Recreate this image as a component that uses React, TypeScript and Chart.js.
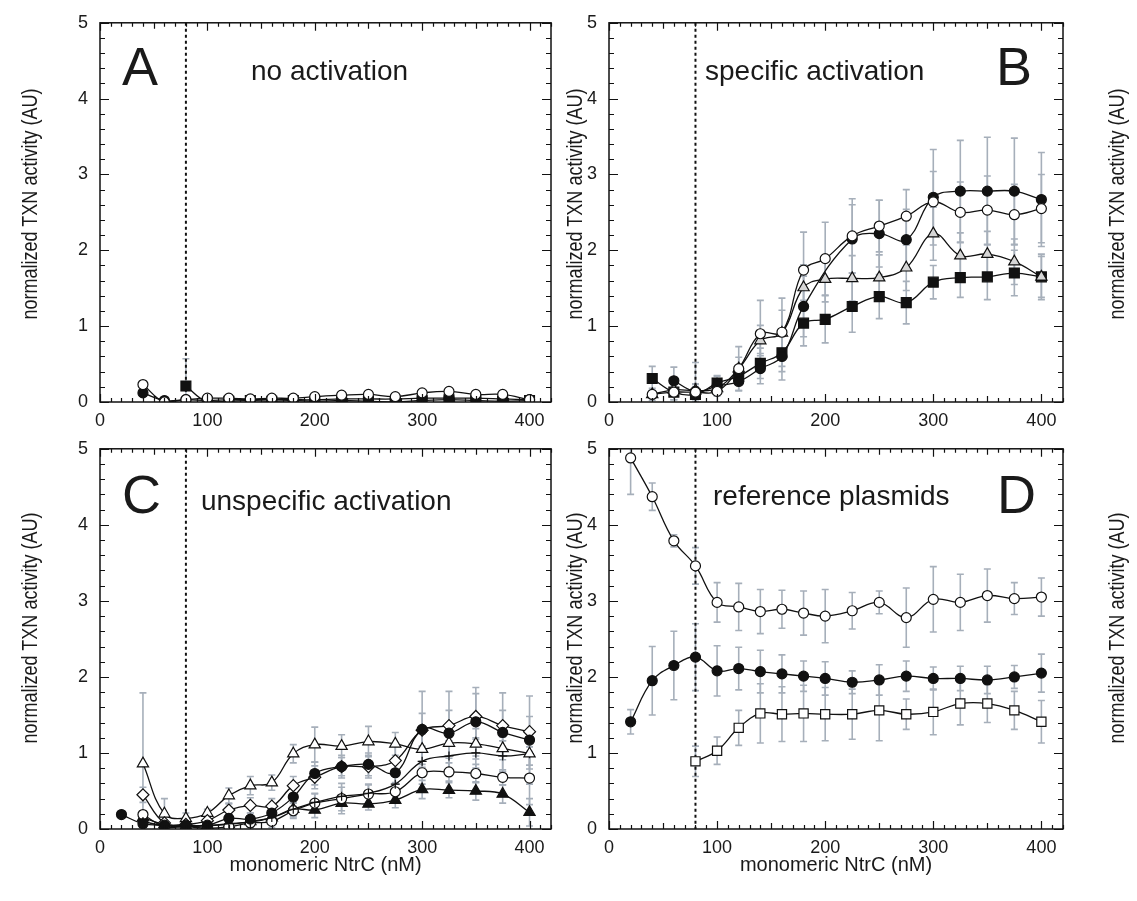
import React, { useEffect, useRef } from 'react';
import { Chart, registerables } from 'chart.js';

Chart.register(...registerables);

// ---------------- data ----------------
const X_TICKS = [0, 100, 200, 300, 400];
const Y_TICKS = [0, 1, 2, 3, 4, 5];
const THRESHOLD_X = 80;

const A_X = [40, 60, 80, 100, 120, 140, 160, 180, 200, 225, 250, 275, 300, 325, 350, 375, 400];
const A_OPEN_CIRCLE = [0.23, 0.0, 0.03, 0.05, 0.05, 0.04, 0.05, 0.05, 0.07, 0.09, 0.1, 0.07, 0.12, 0.14, 0.1, 0.1, 0.03];
const A_OPEN_CIRCLE_ERR = [0.03, 0.02, 0.02, 0.02, 0.02, 0.02, 0.02, 0.02, 0.03, 0.03, 0.03, 0.03, 0.03, 0.03, 0.03, 0.03, 0.02];
const A_FILLED_CIRCLE = [0.12, 0.02, 0.03, 0.02, 0.03, 0.03, 0.03, 0.03, 0.03, 0.04, 0.04, 0.04, 0.05, 0.05, 0.05, 0.04, 0.03];
const A_FILLED_CIRCLE_ERR = [0.04, 0.02, 0.02, 0.02, 0.02, 0.02, 0.02, 0.02, 0.02, 0.02, 0.02, 0.02, 0.02, 0.02, 0.02, 0.02, 0.02];
const A_FILLED_SQUARE = [null, null, 0.21, 0.0, 0.01, 0.02, 0.01, 0.02, 0.01, 0.02, 0.01, 0.0, 0.02, 0.03, 0.02, 0.01, 0.02];
const A_FILLED_SQUARE_ERR = [null, null, 0.36, 0.02, 0.02, 0.02, 0.02, 0.02, 0.02, 0.02, 0.02, 0.02, 0.02, 0.02, 0.02, 0.02, 0.02];

const B_X = [40, 60, 80, 100, 120, 140, 160, 180, 200, 225, 250, 275, 300, 325, 350, 375, 400];
const B_OPEN_CIRCLE = [0.1, 0.13, 0.13, 0.14, 0.44, 0.9, 0.92, 1.74, 1.89, 2.19, 2.32, 2.45, 2.64, 2.5, 2.53, 2.47, 2.55];
const B_OPEN_CIRCLE_ERR = [0.08, 0.1, 0.1, 0.2, 0.29, 0.44, 0.45, 0.5, 0.48, 0.49, 0.34, 0.35, 0.4, 0.4, 0.45, 0.4, 0.45];
const B_FILLED_CIRCLE = [null, 0.28, 0.14, 0.21, 0.27, 0.44, 0.6, 1.26, null, 2.15, 2.22, 2.14, 2.7, 2.78, 2.78, 2.78, 2.67];
const B_FILLED_CIRCLE_ERR = [null, 0.18, 0.1, 0.1, 0.12, 0.2, 0.31, 0.4, null, 0.45, 0.44, 0.4, 0.63, 0.67, 0.71, 0.7, 0.62];
const B_GRAY_TRIANGLE = [0.1, 0.16, 0.15, 0.18, 0.44, 0.81, 0.91, 1.51, 1.62, 1.63, 1.64, 1.77, 2.22, 1.93, 1.95, 1.85, 1.65];
const B_GRAY_TRIANGLE_ERR = [0.05, 0.08, 0.37, 0.1, 0.15, 0.2, 0.3, 0.3, 0.3, 0.3, 0.3, 0.3, 0.35, 0.3, 0.3, 0.3, 0.3];
const B_FILLED_SQUARE = [0.31, 0.13, 0.1, 0.25, 0.34, 0.51, 0.65, 1.04, 1.09, 1.26, 1.39, 1.31, 1.58, 1.64, 1.65, 1.7, 1.65];
const B_FILLED_SQUARE_ERR = [0.16, 0.1, 0.1, 0.1, 0.12, 0.2, 0.25, 0.3, 0.31, 0.34, 0.29, 0.28, 0.22, 0.26, 0.3, 0.3, 0.27];

const C_X = [20, 40, 60, 80, 100, 120, 140, 160, 180, 200, 225, 250, 275, 300, 325, 350, 375, 400];
const C_FILLED_CIRCLE = [0.19, 0.07, 0.05, 0.05, 0.05, 0.14, 0.13, 0.21, 0.42, 0.73, 0.82, 0.85, 0.74, 1.31, 1.26, 1.41, 1.27, 1.17];
const C_FILLED_CIRCLE_ERR = [0.03, 0.05, 0.04, 0.04, 0.04, 0.06, 0.08, 0.1, 0.12, 0.15, 0.12, 0.15, 0.15, 0.5, 0.55, 0.45, 0.52, 0.58];
const C_OPEN_DIAMOND = [null, 0.45, 0.08, 0.06, 0.11, 0.25, 0.31, 0.3, 0.57, 0.68, 0.82, 0.82, 0.9, 1.3, 1.36, 1.48, 1.36, 1.28];
const C_OPEN_DIAMOND_ERR = [null, 0.1, 0.04, 0.04, 0.05, 0.08, 0.1, 0.1, 0.12, 0.15, 0.15, 0.15, 0.2, 0.22, 0.2, 0.3, 0.2, 0.2];
const C_OPEN_TRIANGLE = [null, 0.86, 0.2, 0.14, 0.21, 0.44, 0.57, 0.61, 0.99, 1.11, 1.09, 1.15, 1.12, 1.05, 1.13, 1.12, 1.06, 0.99];
const C_OPEN_TRIANGLE_ERR = [null, 0.93, 0.2, 0.07, 0.05, 0.1, 0.12, 0.1, 0.12, 0.23, 0.15, 0.2, 0.15, 0.2, 0.2, 0.2, 0.15, 0.15];
const C_CROSS = [null, 0.1, 0.04, 0.03, 0.04, 0.07, 0.09, 0.15, 0.26, 0.35, 0.43, 0.47, 0.59, 0.89, 0.96, 1.0, 0.96, 0.99];
const C_CROSS_ERR = [null, 0.04, 0.03, 0.03, 0.03, 0.05, 0.06, 0.08, 0.1, 0.12, 0.12, 0.12, 0.15, 0.2, 0.2, 0.2, 0.2, 0.2];
const C_OPEN_CIRCLE = [null, 0.19, 0.03, 0.03, 0.01, 0.03, 0.08, 0.1, 0.24, 0.34, 0.4, 0.46, 0.49, 0.74, 0.75, 0.73, 0.68, 0.67];
const C_OPEN_CIRCLE_ERR = [null, 0.05, 0.03, 0.03, 0.03, 0.04, 0.06, 0.08, 0.1, 0.12, 0.2, 0.12, 0.12, 0.15, 0.12, 0.12, 0.1, 0.35];
const C_FILLED_TRIANGLE = [null, 0.15, 0.06, 0.04, 0.05, 0.06, 0.1, 0.15, 0.26, 0.25, 0.34, 0.33, 0.38, 0.52, 0.51, 0.5, 0.46, 0.22];
const C_FILLED_TRIANGLE_ERR = [null, 0.05, 0.03, 0.03, 0.03, 0.04, 0.05, 0.06, 0.08, 0.1, 0.1, 0.08, 0.1, 0.12, 0.1, 0.12, 0.12, 0.18];

const D_X = [20, 40, 60, 80, 100, 120, 140, 160, 180, 200, 225, 250, 275, 300, 325, 350, 375, 400];
const D_OPEN_CIRCLE = [4.88, 4.37, 3.79, 3.46, 2.98, 2.92, 2.86, 2.89, 2.84, 2.8, 2.87, 2.98, 2.78, 3.02, 2.98, 3.07, 3.03, 3.05];
const D_OPEN_CIRCLE_ERR = [0.48, 0.18, 0.08, 0.24, 0.26, 0.31, 0.29, 0.25, 0.29, 0.35, 0.24, 0.15, 0.39, 0.43, 0.37, 0.35, 0.21, 0.25];
const D_FILLED_CIRCLE = [1.41, 1.95, 2.15, 2.26, 2.08, 2.11, 2.07, 2.04, 2.01, 1.98, 1.93, 1.96, 2.01, 1.98, 1.98, 1.96, 2.0, 2.05];
const D_FILLED_CIRCLE_ERR = [0.16, 0.45, 0.45, 0.44, 0.33, 0.28, 0.28, 0.25, 0.2, 0.22, 0.15, 0.2, 0.2, 0.15, 0.16, 0.18, 0.15, 0.25];
const D_OPEN_SQUARE = [null, null, null, 0.89, 1.03, 1.33, 1.52, 1.51, 1.52, 1.51, 1.51, 1.56, 1.51, 1.54, 1.65, 1.65, 1.56, 1.41];
const D_OPEN_SQUARE_ERR = [null, null, null, 0.2, 0.18, 0.23, 0.39, 0.36, 0.37, 0.35, 0.33, 0.4, 0.2, 0.3, 0.28, 0.25, 0.25, 0.28];

const Y_TITLE = 'normalized TXN activity (AU)';
const X_TITLE = 'monomeric NtrC (nM)';

// ---------------- styles ----------------
const FONT = '"Liberation Sans", Arial, Helvetica, sans-serif';
const INK = '#1a1a1a';
const ERR_COLOR = '#a6afba';

type MarkerStyle = { pointStyle: any; radius: number; fill: string };
const MARKERS: Record<string, MarkerStyle> = {
  filledCircle: { pointStyle: 'circle', radius: 5, fill: '#111' },
  openCircle: { pointStyle: 'circle', radius: 5, fill: '#fff' },
  filledSquare: { pointStyle: 'rect', radius: 7, fill: '#111' },
  openSquare: { pointStyle: 'rect', radius: 6.5, fill: '#fff' },
  grayTriangle: { pointStyle: 'triangle', radius: 6.5, fill: '#d6d6d6' },
  openTriangle: { pointStyle: 'triangle', radius: 6.5, fill: '#fff' },
  filledTriangle: { pointStyle: 'triangle', radius: 6.5, fill: '#111' },
  openDiamond: { pointStyle: 'rectRot', radius: 6, fill: '#fff' },
  cross: { pointStyle: 'cross', radius: 4.5, fill: 'rgba(0,0,0,0)' },
};

type Series = { label: string; marker: string; values: (number | null)[]; errors: (number | null)[] };
type PanelCfg = {
  id: string;
  left: number; top: number; w: number; h: number;
  padTop: number; padRight: number; yAxisW: number; xAxisH: number;
  xTitle: boolean;
  xs: number[];
  series: Series[];
  letter: string; letterAt: [number, number];
  caption: string; captionAt: [number, number];
};

const PANELS: PanelCfg[] = [
  {
    id: 'A', left: 0, top: 0, w: 560, h: 440, padTop: 19, padRight: 9, yAxisW: 100, xAxisH: 38,
    xTitle: false, xs: A_X,
    series: [
      { label: 'open circle', marker: 'openCircle', values: A_OPEN_CIRCLE, errors: A_OPEN_CIRCLE_ERR },
      { label: 'filled circle', marker: 'filledCircle', values: A_FILLED_CIRCLE, errors: A_FILLED_CIRCLE_ERR },
      { label: 'filled square', marker: 'filledSquare', values: A_FILLED_SQUARE, errors: A_FILLED_SQUARE_ERR },
    ],
    letter: 'A', letterAt: [20.5, 4.18], caption: 'no activation', captionAt: [140.6, 4.24],
  },
  {
    id: 'B', left: 540, top: 0, w: 597, h: 440, padTop: 19, padRight: 74, yAxisW: 69, xAxisH: 38,
    xTitle: false, xs: B_X,
    series: [
      { label: 'open circle', marker: 'openCircle', values: B_OPEN_CIRCLE, errors: B_OPEN_CIRCLE_ERR },
      { label: 'filled circle', marker: 'filledCircle', values: B_FILLED_CIRCLE, errors: B_FILLED_CIRCLE_ERR },
      { label: 'gray triangle', marker: 'grayTriangle', values: B_GRAY_TRIANGLE, errors: B_GRAY_TRIANGLE_ERR },
      { label: 'filled square', marker: 'filledSquare', values: B_FILLED_SQUARE, errors: B_FILLED_SQUARE_ERR },
    ],
    letter: 'B', letterAt: [358, 4.18], caption: 'specific activation', captionAt: [88.8, 4.24],
  },
  {
    id: 'C', left: 0, top: 426, w: 560, h: 475, padTop: 20, padRight: 9, yAxisW: 100, xAxisH: 72,
    xTitle: true, xs: C_X,
    series: [
      { label: 'filled circle', marker: 'filledCircle', values: C_FILLED_CIRCLE, errors: C_FILLED_CIRCLE_ERR },
      { label: 'open diamond', marker: 'openDiamond', values: C_OPEN_DIAMOND, errors: C_OPEN_DIAMOND_ERR },
      { label: 'open triangle', marker: 'openTriangle', values: C_OPEN_TRIANGLE, errors: C_OPEN_TRIANGLE_ERR },
      { label: 'cross', marker: 'cross', values: C_CROSS, errors: C_CROSS_ERR },
      { label: 'open circle', marker: 'openCircle', values: C_OPEN_CIRCLE, errors: C_OPEN_CIRCLE_ERR },
      { label: 'filled triangle', marker: 'filledTriangle', values: C_FILLED_TRIANGLE, errors: C_FILLED_TRIANGLE_ERR },
    ],
    letter: 'C', letterAt: [20.5, 4.16], caption: 'unspecific activation', captionAt: [94, 4.2],
  },
  {
    id: 'D', left: 540, top: 426, w: 597, h: 475, padTop: 20, padRight: 74, yAxisW: 69, xAxisH: 72,
    xTitle: true, xs: D_X,
    series: [
      { label: 'open circle', marker: 'openCircle', values: D_OPEN_CIRCLE, errors: D_OPEN_CIRCLE_ERR },
      { label: 'filled circle', marker: 'filledCircle', values: D_FILLED_CIRCLE, errors: D_FILLED_CIRCLE_ERR },
      { label: 'open square', marker: 'openSquare', values: D_OPEN_SQUARE, errors: D_OPEN_SQUARE_ERR },
    ],
    letter: 'D', letterAt: [359, 4.16], caption: 'reference plasmids', captionAt: [96.2, 4.26],
  },
];

// ---------------- plugin ----------------
const decorPlugin = {
  id: 'decor',
  beforeDatasetsDraw(chart: any, _a: any, opts: any) {
    const { ctx, chartArea: ca } = chart;
    const xs = chart.scales.x;
    const ys = chart.scales.y;
    ctx.save();
    ctx.beginPath();
    ctx.rect(ca.left, ca.top, ca.right - ca.left, ca.bottom - ca.top);
    ctx.clip();
    ctx.strokeStyle = ERR_COLOR;
    ctx.lineWidth = 1.6;
    chart.data.datasets.forEach((ds: any, i: number) => {
      const errs = opts.errors[i];
      ds.data.forEach((pt: any, j: number) => {
        const e = errs ? errs[j] : null;
        if (pt.y == null || e == null) return;
        const px = xs.getPixelForValue(pt.x);
        const t = ys.getPixelForValue(pt.y + e);
        const b = ys.getPixelForValue(pt.y - e);
        ctx.beginPath();
        ctx.moveTo(px, t);
        ctx.lineTo(px, b);
        ctx.moveTo(px - 3.5, t);
        ctx.lineTo(px + 3.5, t);
        ctx.moveTo(px - 3.5, b);
        ctx.lineTo(px + 3.5, b);
        ctx.stroke();
      });
    });
    const vx = xs.getPixelForValue(opts.vline);
    ctx.strokeStyle = '#111';
    ctx.lineWidth = 2;
    ctx.setLineDash([3, 3]);
    ctx.beginPath();
    ctx.moveTo(vx, ca.top);
    ctx.lineTo(vx, ca.bottom);
    ctx.stroke();
    ctx.restore();
  },
  afterDatasetsDraw(chart: any, _a: any, opts: any) {
    const { ctx, chartArea: ca } = chart;
    const xs = chart.scales.x;
    const ys = chart.scales.y;
    ctx.save();
    ctx.strokeStyle = '#111';
    ctx.lineWidth = 1.5;
    ctx.strokeRect(ca.left, ca.top, ca.right - ca.left, ca.bottom - ca.top);
    ctx.lineWidth = 1.2;
    ctx.beginPath();
    for (let v = xs.min; v <= xs.max; v += 10) {
      const len = v % 100 === 0 ? 8 : v % 50 === 0 ? 6 : 4;
      const px = Math.round(xs.getPixelForValue(v)) + 0.5;
      ctx.moveTo(px, ca.bottom);
      ctx.lineTo(px, ca.bottom - len);
      ctx.moveTo(px, ca.top);
      ctx.lineTo(px, ca.top + len);
    }
    for (let k = 0; k <= 25; k++) {
      const v = k * 0.2;
      const len = k % 5 === 0 ? 9 : 5;
      const py = Math.round(ys.getPixelForValue(v)) + 0.5;
      ctx.moveTo(ca.left, py);
      ctx.lineTo(ca.left + len, py);
      ctx.moveTo(ca.right, py);
      ctx.lineTo(ca.right - len, py);
    }
    ctx.stroke();

    ctx.fillStyle = INK;
    ctx.textAlign = 'left';
    ctx.textBaseline = 'alphabetic';
    ctx.font = `54px ${FONT}`;
    ctx.fillText(opts.letter, xs.getPixelForValue(opts.letterAt[0]), ys.getPixelForValue(opts.letterAt[1]));
    ctx.font = `28px ${FONT}`;
    ctx.fillText(opts.caption, xs.getPixelForValue(opts.captionAt[0]), ys.getPixelForValue(opts.captionAt[1]));
    ctx.restore();
  },
};

function Panel({ cfg }: { cfg: PanelCfg }) {
  const ref = useRef<HTMLCanvasElement>(null);
  useEffect(() => {
    const datasets = cfg.series.map((s) => {
      const m = MARKERS[s.marker];
      return {
        label: s.label,
        data: cfg.xs.map((x, i) => ({ x, y: s.values[i] })),
        borderColor: '#111',
        borderWidth: 1.3,
        tension: 0.4,
        pointStyle: m.pointStyle,
        pointRadius: m.radius,
        pointHoverRadius: m.radius,
        pointBackgroundColor: m.fill,
        pointBorderColor: '#111',
        pointBorderWidth: 1.2,
        fill: false,
        spanGaps: true,
      };
    });
    const chart = new Chart(ref.current as HTMLCanvasElement, {
      type: 'line',
      data: { datasets },
      plugins: [decorPlugin],
      options: {
        animation: false,
        responsive: false,
        maintainAspectRatio: false,
        events: [],
        layout: { padding: { top: cfg.padTop, right: cfg.padRight, left: 0, bottom: 0 } },
        plugins: {
          legend: { display: false },
          tooltip: { enabled: false },
          decor: {
            vline: THRESHOLD_X,
            errors: cfg.series.map((s) => s.errors),
            letter: cfg.letter,
            letterAt: cfg.letterAt,
            caption: cfg.caption,
            captionAt: cfg.captionAt,
          },
        } as any,
        scales: {
          x: {
            type: 'linear',
            min: 0,
            max: 420,
            grid: { display: false, drawTicks: false },
            border: { display: false },
            ticks: { font: { family: FONT, size: 18 }, color: INK, padding: 8, maxRotation: 0, autoSkip: false },
            afterBuildTicks: (ax: any) => { ax.ticks = X_TICKS.map((v) => ({ value: v })); },
            afterFit: (ax: any) => { ax.height = cfg.xAxisH; },
            title: {
              display: cfg.xTitle,
              text: X_TITLE,
              color: INK,
              font: { family: FONT, size: 20 },
              padding: { top: 0, bottom: 24 },
            },
          },
          y: {
            type: 'linear',
            min: 0,
            max: 5,
            grid: { display: false, drawTicks: false },
            border: { display: false },
            ticks: { font: { family: FONT, size: 18 }, color: INK, padding: 12 },
            afterBuildTicks: (ax: any) => { ax.ticks = Y_TICKS.map((v) => ({ value: v })); },
            afterFit: (ax: any) => { ax.width = cfg.yAxisW; },
          },
        },
      } as any,
    });
    return () => chart.destroy();
  }, [cfg]);
  return (
    <canvas
      ref={ref}
      width={cfg.w}
      height={cfg.h}
      style={{ position: 'absolute', left: cfg.left, top: cfg.top, width: cfg.w, height: cfg.h }}
    />
  );
}

const Y_TITLE_COLUMNS = [30, 575, 1117];
const Y_TITLE_ROWS = [204, 628];

const yTitleStyle = (cx: number, cy: number): React.CSSProperties => ({
  position: 'absolute',
  left: cx,
  top: cy,
  transform: 'translate(-50%, -50%) rotate(-90deg) scaleX(0.82)',
  whiteSpace: 'nowrap',
  fontFamily: FONT,
  fontSize: 22,
  lineHeight: 1,
  color: INK,
});

export default function App() {
  return (
    <div style={{ position: 'absolute', left: 0, top: 0, width: 1137, height: 901, background: '#fff', overflow: 'hidden' }}>
      {PANELS.map((p) => (
        <Panel key={p.id} cfg={p} />
      ))}
      {Y_TITLE_ROWS.map((cy) =>
        Y_TITLE_COLUMNS.map((cx) => (
          <div key={`${cx}-${cy}`} style={yTitleStyle(cx, cy)}>{Y_TITLE}</div>
        ))
      )}
    </div>
  );
}
